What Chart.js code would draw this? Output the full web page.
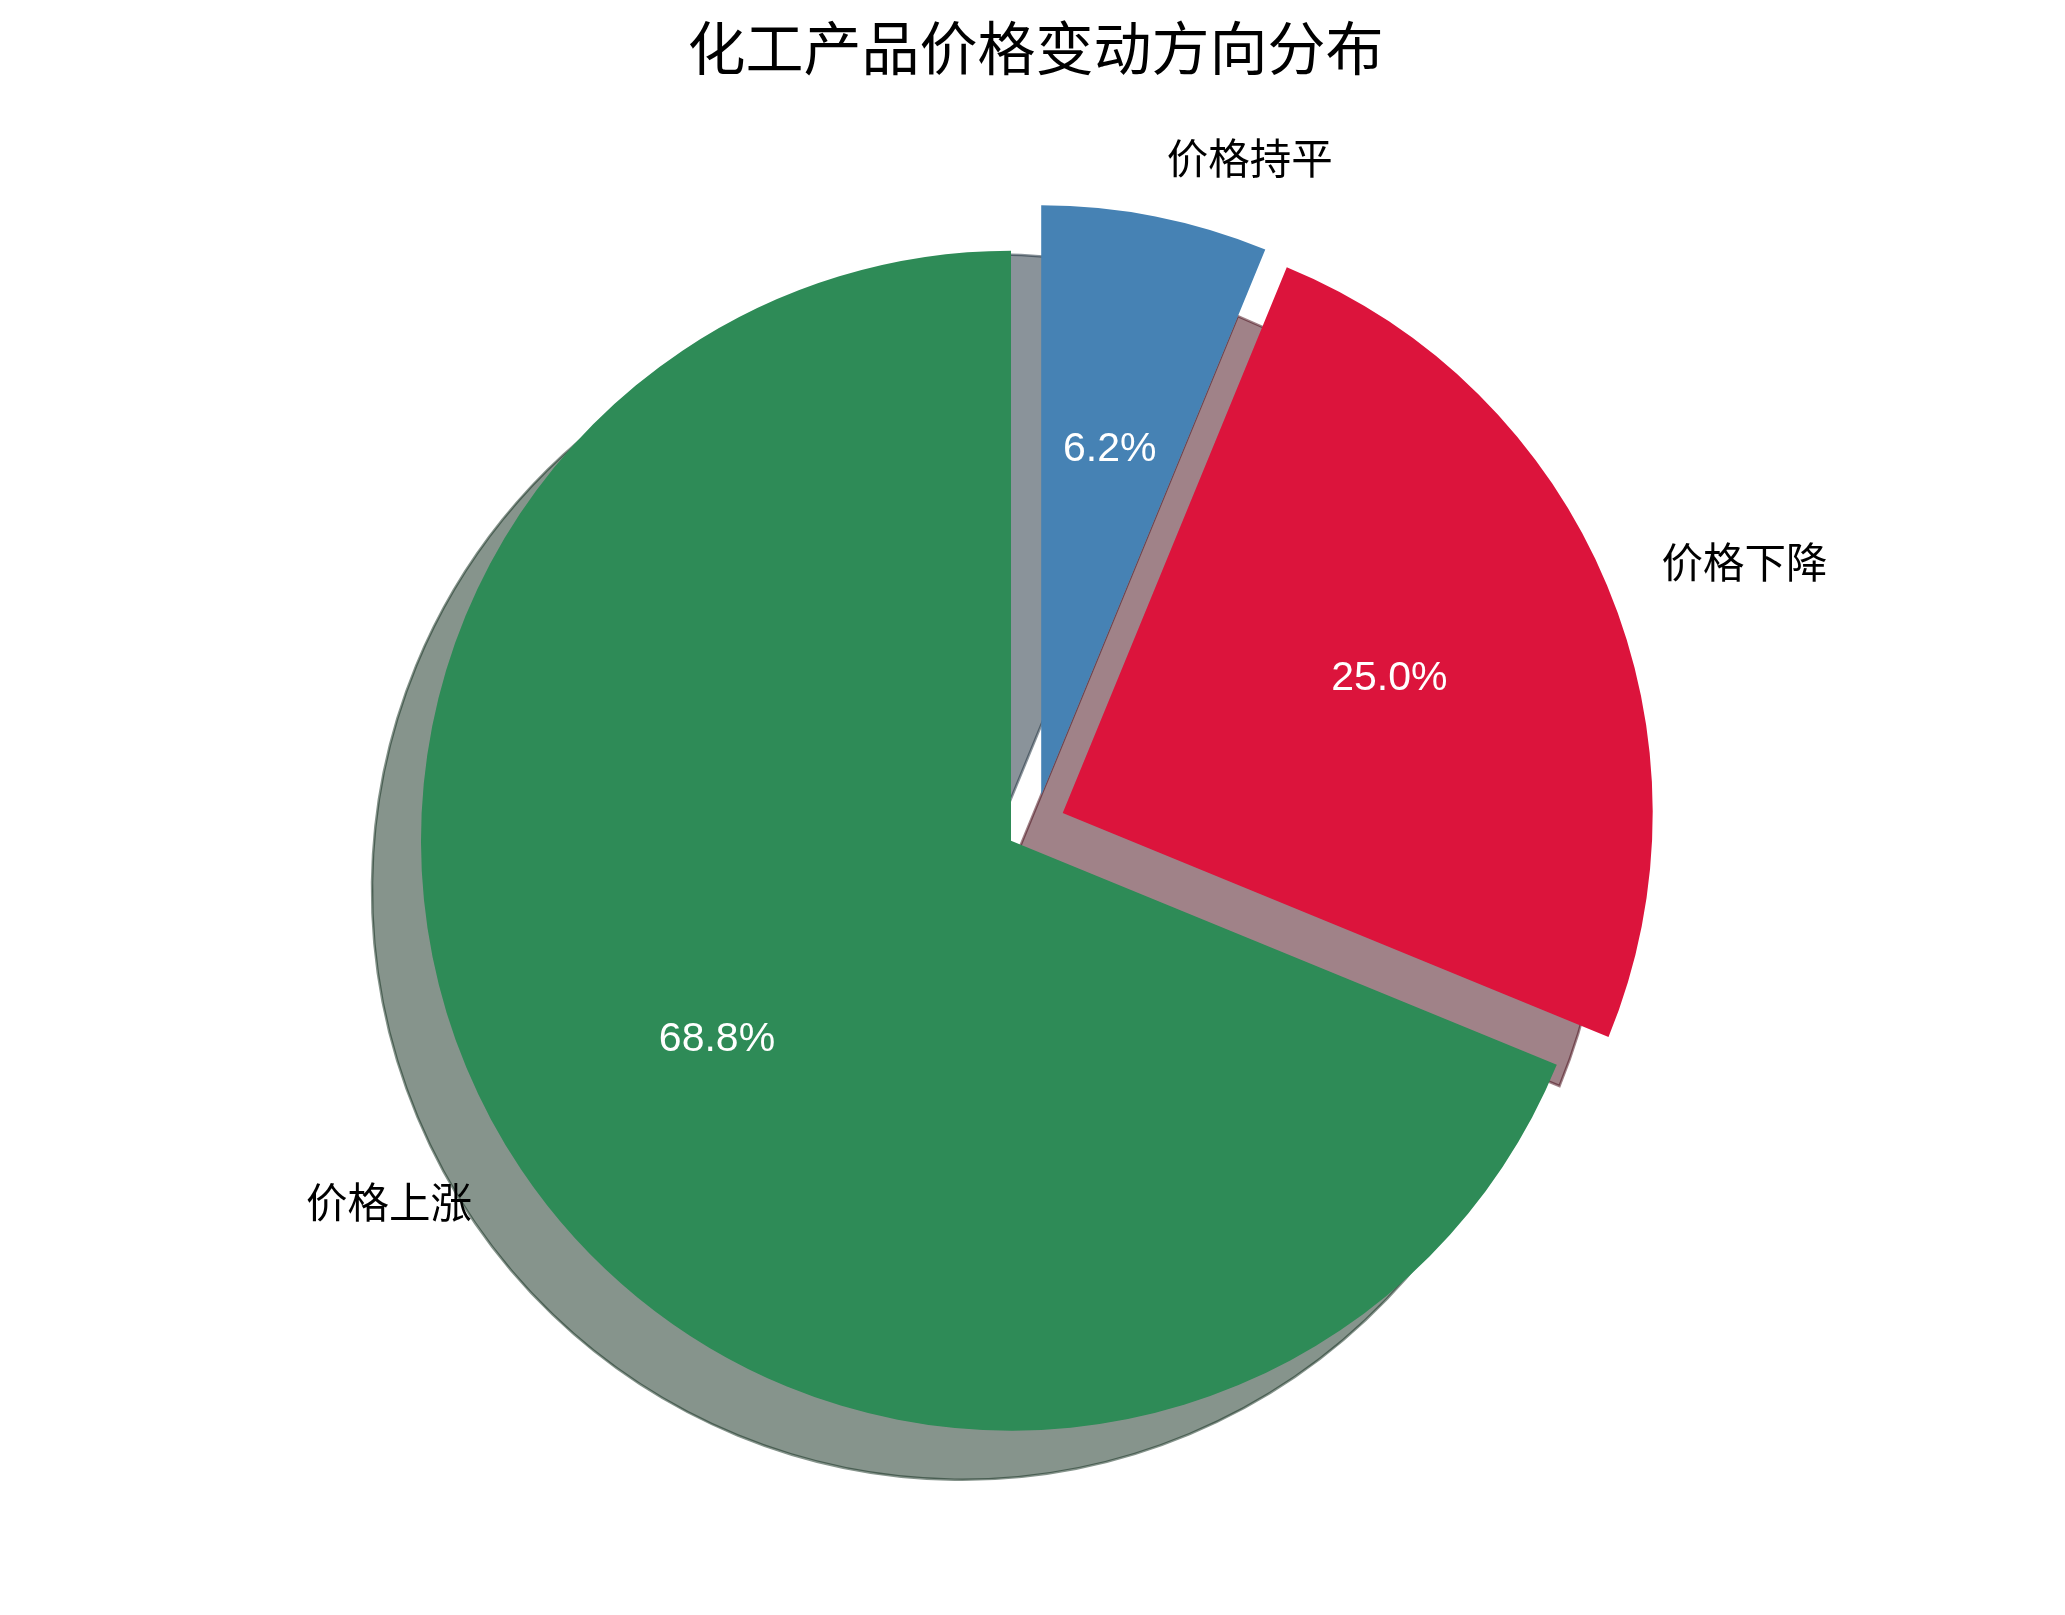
<!DOCTYPE html>
<html lang="zh-CN">
<head>
<meta charset="utf-8">
<title>化工产品价格变动方向分布</title>
<script src="https://cdn.jsdelivr.net/npm/chart.js@4.4.1/dist/chart.umd.min.js"></script>
<style>
  html, body { margin: 0; padding: 0; background: #fff; }
  #wrap { width: 2065px; height: 1615px; }
</style>
</head>
<body>
<div id="wrap"><canvas id="pieChart" width="2065" height="1615"></canvas></div>
<script>
// slices listed clockwise from 12 o'clock
const categories = ['价格持平', '价格下降', '价格上涨'];
const shares = [6.2, 25.0, 68.8];
const sliceColors = ['#4682B4', '#DC143C', '#2E8B57'];

const EXPLODE = 0.05;          // fraction of radius each wedge is pulled out
const SHADOW_DX = -49;
const SHADOW_DY = 49;
const FONT = '"Noto Sans CJK SC", "Noto Sans", sans-serif';
const PCT_FONT = '"Liberation Sans", Arial, sans-serif';

// darkened, half transparent copy of the wedge colour
function shadowColor(hex) {
  const n = parseInt(hex.slice(1), 16);
  const r = Math.round(((n >> 16) & 255) * 0.3);
  const g = Math.round(((n >> 8) & 255) * 0.3);
  const b = Math.round((n & 255) * 0.3);
  return `rgba(${r}, ${g}, ${b}, 0.5)`;
}

function explodeShift(arc) {
  const mid = (arc.startAngle + arc.endAngle) / 2;
  const d = EXPLODE * arc.outerRadius;
  return [Math.cos(mid) * d, Math.sin(mid) * d];
}

const explodedPie = {
  id: 'explodedPie',
  beforeDatasetDraw(chart, args) {
    const ctx = chart.ctx;
    const arcs = args.meta.data;

    // shadows go under every wedge
    for (let i = arcs.length - 1; i >= 0; i--) {
      const arc = arcs[i];
      const [ex, ey] = explodeShift(arc);
      const cx = arc.x + ex + SHADOW_DX;
      const cy = arc.y + ey + SHADOW_DY;
      const col = shadowColor(sliceColors[i]);
      ctx.save();
      ctx.beginPath();
      ctx.moveTo(cx, cy);
      ctx.arc(cx, cy, arc.outerRadius, arc.startAngle, arc.endAngle);
      ctx.closePath();
      ctx.fillStyle = col;
      ctx.fill();
      ctx.lineWidth = 2.5;
      ctx.strokeStyle = col;
      ctx.stroke();
      ctx.restore();
    }

    arcs.forEach(arc => {
      const [ex, ey] = explodeShift(arc);
      ctx.save();
      ctx.translate(ex, ey);
      arc.draw(ctx, chart.chartArea);
      ctx.restore();
    });
    return false;
  },
  afterDatasetsDraw(chart) {
    const ctx = chart.ctx;
    const arcs = chart.getDatasetMeta(0).data;
    const total = shares.reduce((s, v) => s + v, 0);
    ctx.save();
    ctx.textBaseline = 'middle';
    arcs.forEach((arc, i) => {
      const mid = (arc.startAngle + arc.endAngle) / 2;
      const [ex, ey] = explodeShift(arc);
      const cx = arc.x + ex;
      const cy = arc.y + ey;
      const r = arc.outerRadius;

      ctx.font = `41.5px ${FONT}`;
      ctx.fillStyle = '#000';
      ctx.textAlign = Math.cos(mid) > 0 ? 'left' : 'right';
      ctx.fillText(categories[i], cx + Math.cos(mid) * r * 1.1, cy + Math.sin(mid) * r * 1.1);

      ctx.font = `41px ${PCT_FONT}`;
      ctx.fillStyle = '#fff';
      ctx.textAlign = 'center';
      const pct = (shares[i] / total * 100).toFixed(1) + '%';
      ctx.fillText(pct, cx + Math.cos(mid) * r * 0.6, cy + Math.sin(mid) * r * 0.6 + 2);
    });
    ctx.restore();
  }
};

new Chart(document.getElementById('pieChart'), {
  type: 'pie',
  data: {
    labels: categories,
    datasets: [{
      data: shares,
      backgroundColor: sliceColors,
      borderWidth: 0
    }]
  },
  options: {
    responsive: false,
    animation: false,
    radius: 590,
    layout: { padding: { left: 6, right: 0, top: 0, bottom: 49 } },
    plugins: {
      legend: { display: false },
      tooltip: { enabled: false },
      title: {
        display: true,
        text: '化工产品价格变动方向分布',
        color: '#000',
        font: { family: FONT, size: 58, weight: 'normal' },
        padding: { top: 13, bottom: 0 }
      }
    }
  },
  plugins: [explodedPie]
});
</script>
</body>
</html>
